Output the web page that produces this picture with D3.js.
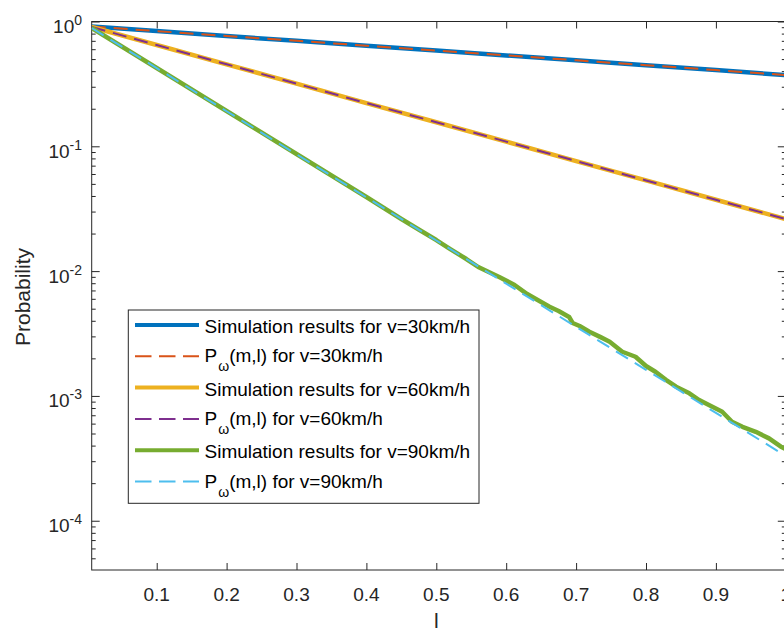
<!DOCTYPE html>
<html>
<head>
<meta charset="utf-8">
<script src="https://cdn.jsdelivr.net/npm/d3@7/dist/d3.min.js"></script>
<style>
body{margin:0;background:#fff;}
svg{display:block;font-family:"Liberation Sans",Arial,Helvetica,sans-serif;}
</style>
</head>
<body>
<div id="chart"></div>
<script>
// values
var lGrid = [0.007, 0.1, 0.2, 0.3, 0.4, 0.5, 0.6, 0.7, 0.8, 0.9, 1.0];
var sim30 = [0.910, 0.838, 0.765, 0.700, 0.640, 0.585, 0.535, 0.489, 0.447, 0.408, 0.372];
var pw30  = [0.910, 0.838, 0.765, 0.700, 0.640, 0.585, 0.535, 0.489, 0.447, 0.408, 0.372];
var sim60 = [0.904, 0.648, 0.454, 0.318, 0.222, 0.156, 0.109, 0.0762, 0.0533, 0.0373, 0.0261];
var pw60  = [0.904, 0.648, 0.454, 0.318, 0.222, 0.156, 0.109, 0.0762, 0.0533, 0.0373, 0.0261];
var pw90  = [0.887, 0.423, 0.191, 0.0863, 0.0390, 0.0176, 0.00794, 0.00358, 0.00162, 0.000731, 0.000330];

var simL90 = [0.007, 0.1, 0.2, 0.3, 0.4, 0.45, 0.476, 0.5, 0.52, 0.543, 0.56, 0.575, 0.59, 0.612, 0.63,
	0.645, 0.662, 0.675, 0.69, 0.695, 0.705, 0.719, 0.735, 0.748, 0.766, 0.785, 0.80, 0.814, 0.829,
	0.843, 0.862, 0.876, 0.89, 0.909, 0.923, 0.938, 0.957, 0.976, 0.993, 1.0];
var sim90 = [0.887, 0.424, 0.1918, 0.0868, 0.03925, 0.02616, 0.02135, 0.01775, 0.01503, 0.01250, 0.01079,
	0.00984, 0.00897, 0.00774, 0.00655, 0.00587, 0.00519, 0.00479, 0.00429, 0.00384, 0.00363, 0.00327,
	0.00296, 0.00272, 0.00226, 0.00206, 0.001737, 0.001554, 0.001341, 0.001185, 0.001049, 0.000927,
	0.000845, 0.000747, 0.000621, 0.000566, 0.000516, 0.000457, 0.000392, 0.000375];

var xTicks = [0.1, 0.2, 0.3, 0.4, 0.5, 0.6, 0.7, 0.8, 0.9, 1];
var xTickLabels = ["0.1", "0.2", "0.3", "0.4", "0.5", "0.6", "0.7", "0.8", "0.9", "1"];
var yExponents = [0, -1, -2, -3, -4];
var speeds = ["30", "60", "90"];
var simColors = ["#0072BD", "#EDB120", "#77AC30"];
var pwColors = ["#D95319", "#7E2F8E", "#4DBEEE"];

var W = 784, H = 630;
var pLeft = 91.7, pRight = 785.8, pTop = 21.5, pBottom = 570;
var ink = "#262626";

var svg = d3.select("#chart").append("svg").attr("width", W).attr("height", H);

var x = d3.scaleLinear().domain([0.007, 1]).range([pLeft, pRight]);
var y = d3.scaleLog().domain([4.03e-5, 1]).range([pBottom, pTop]);

svg.append("clipPath").attr("id", "clip").append("rect")
	.attr("x", pLeft).attr("y", pTop).attr("width", pRight - pLeft).attr("height", pBottom - pTop);

//####################################################################
// axes : ticks inside, box all round
//####################################################################
var minorTicks = [];
for (var e = -5; e < 0; e++) {
	for (var m = 2; m <= 9; m++) {
		var v = m * Math.pow(10, e);
		if (v >= 4.03e-5 && v < 1) minorTicks.push(v);
	}
}
var majorTicks = yExponents.map(function(p) { return Math.pow(10, p); });

var gx = svg.append("g").attr("transform", "translate(0," + pBottom + ")")
	.call(d3.axisBottom(x).tickValues(xTicks).tickSize(-7).tickFormat(""));
var gxTop = svg.append("g").attr("transform", "translate(0," + pTop + ")")
	.call(d3.axisTop(x).tickValues(xTicks).tickSize(-7).tickFormat(""));
var gy = svg.append("g").attr("transform", "translate(" + pLeft + ",0)")
	.call(d3.axisLeft(y).tickValues(majorTicks).tickSize(-8).tickFormat(""));
var gyMinor = svg.append("g").attr("transform", "translate(" + pLeft + ",0)")
	.call(d3.axisLeft(y).tickValues(minorTicks).tickSize(-4).tickFormat(""));
var gyR = svg.append("g").attr("transform", "translate(" + pRight + ",0)")
	.call(d3.axisRight(y).tickValues(majorTicks).tickSize(-8).tickFormat(""));
var gyRMinor = svg.append("g").attr("transform", "translate(" + pRight + ",0)")
	.call(d3.axisRight(y).tickValues(minorTicks).tickSize(-4).tickFormat(""));

[gx, gxTop, gy, gyMinor, gyR, gyRMinor].forEach(function(g) {
	g.select(".domain").remove();
	g.selectAll(".tick line").attr("stroke", ink);
});

svg.append("rect").attr("x", pLeft).attr("y", pTop).attr("width", pRight - pLeft).attr("height", pBottom - pTop)
	.attr("fill", "none").attr("stroke", ink).attr("stroke-width", 1);

// x tick labels
svg.append("g").selectAll("text").data(xTicks).enter().append("text")
	.attr("x", function(d) { return x(d); }).attr("y", 600.7)
	.attr("text-anchor", "middle").attr("font-size", 19).attr("fill", ink)
	.text(function(d, i) { return xTickLabels[i]; });

// y tick labels 10^k
var yl = svg.append("g").selectAll("text").data(yExponents).enter().append("text")
	.attr("x", 82).attr("y", function(d) { return y(Math.pow(10, d)) + 11.5; })
	.attr("text-anchor", "end").attr("fill", ink).attr("font-size", 19);
yl.append("tspan").text("10");
yl.append("tspan").attr("font-size", 14).attr("dy", -8).text(function(d) { return d; });

// axis labels
svg.append("text").attr("x", x(0.5)).attr("y", 628).attr("text-anchor", "middle")
	.attr("font-size", 21).attr("fill", ink).text("l");
svg.append("text").attr("transform", "translate(30," + 297 + ") rotate(-90)")
	.attr("text-anchor", "middle").attr("font-size", 21).attr("fill", ink).text("Probability");

//####################################################################
// curves
//####################################################################
var line = d3.line().x(function(d) { return x(d[0]); }).y(function(d) { return y(d[1]); });
var plot = svg.append("g").attr("clip-path", "url(#clip)").attr("fill", "none");

var simSeries = [d3.zip(lGrid, sim30), d3.zip(lGrid, sim60), d3.zip(simL90, sim90)];
var pwSeries = [d3.zip(lGrid, pw30), d3.zip(lGrid, pw60), d3.zip(lGrid, pw90)];

for (var i = 0; i < 3; i++) {
	plot.append("path").attr("d", line(simSeries[i])).attr("stroke", simColors[i])
		.attr("stroke-width", 4.5).attr("stroke-linejoin", "round");
	plot.append("path").attr("d", line(pwSeries[i])).attr("stroke", pwColors[i])
		.attr("stroke-width", 2).attr("stroke-dasharray", "14,8");
}

//####################################################################
// legend
//####################################################################
var lg = svg.append("g");
lg.append("rect").attr("x", 128.3).attr("y", 310).attr("width", 350.7).attr("height", 193.3)
	.attr("fill", "#fff").attr("stroke", ink).attr("stroke-width", 1);

for (var k = 0; k < 3; k++) {
	var r1 = 325 + k * 2 * 31.3, r2 = r1 + 31.3;
	lg.append("line").attr("x1", 135).attr("x2", 199).attr("y1", r1).attr("y2", r1)
		.attr("stroke", simColors[k]).attr("stroke-width", 4);
	lg.append("text").attr("x", 204.5).attr("y", r1 + 8).attr("font-size", 19).attr("fill", "#000")
		.text("Simulation results for v=" + speeds[k] + "km/h");
	lg.append("line").attr("x1", 135).attr("x2", 199).attr("y1", r2).attr("y2", r2)
		.attr("stroke", pwColors[k]).attr("stroke-width", 2).attr("stroke-dasharray", "16.5,7.5");
	var t = lg.append("text").attr("x", 204.5).attr("y", r2 + 6).attr("font-size", 19).attr("fill", "#000");
	t.append("tspan").text("P");
	t.append("tspan").attr("font-size", 14).attr("dy", 9).attr("dx", 1).text("\u03c9");
	t.append("tspan").attr("dy", -9).text("(m,l) for v=" + speeds[k] + "km/h");
}
</script>
</body>
</html>
